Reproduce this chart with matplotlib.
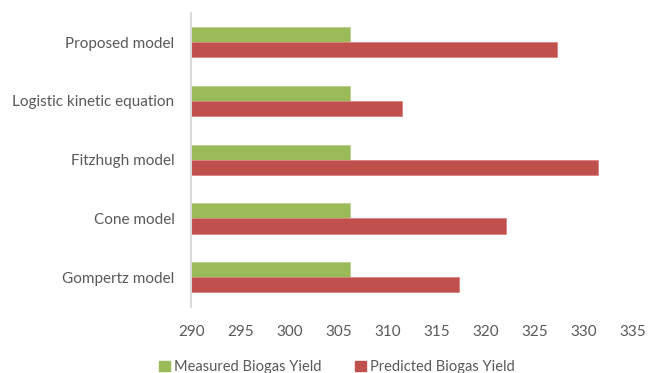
import numpy as np
import matplotlib.pyplot as plt
from matplotlib.patches import Patch

# Chart data (bottom to top, as drawn)
categories = ['Gompertz model', 'Cone model', 'Fitzhugh model',
              'Logistic kinetic equation', 'Proposed model']
measured_yield = [306.2, 306.2, 306.2, 306.2, 306.2]
predicted_yield = [317.3, 322.1, 331.4, 311.5, 327.3]
x_ticks = [290, 295, 300, 305, 310, 315, 320, 325, 330, 335]

GREEN = '#9BBB59'
RED = '#C0504D'
TEXT = '#595959'

plt.rcParams['font.family'] = ['Lato', 'DejaVu Sans']

fig = plt.figure(figsize=(6.48, 3.73), dpi=100)
ax = fig.add_axes([0.295, 0.178, 0.682, 0.788])

y = np.arange(len(categories))
h = 0.257
base = x_ticks[0]

ax.barh(y + h / 2, np.array(measured_yield) - base, left=base, height=h,
        color=GREEN, edgecolor='#b8cf8a', linewidth=0.6)
ax.barh(y - h / 2, np.array(predicted_yield) - base, left=base, height=h,
        color=RED, edgecolor='#d98583', linewidth=0.6)

ax.set_xlim(290, 335)
ax.set_ylim(-0.5, len(categories) - 0.5)
ax.set_xticks(x_ticks)
ax.set_yticks(y)
ax.set_yticklabels(categories)
ax.tick_params(axis='both', length=0, colors=TEXT, labelsize=11)
ax.tick_params(axis='x', pad=13)
ax.tick_params(axis='y', pad=12)

for side in ['top', 'right', 'bottom']:
    ax.spines[side].set_visible(False)
ax.spines['left'].set_color('#d9d9d9')
ax.spines['left'].set_linewidth(1.5)

handles = [Patch(color=GREEN, label='Measured Biogas Yield'),
           Patch(color=RED, label='Predicted Biogas Yield')]
fig.legend(handles=handles, loc='center', bbox_to_anchor=(0.52, 0.016),
           ncol=2, frameon=False, fontsize=10.5, handlelength=0.75,
           handleheight=0.75, handletextpad=0.3, columnspacing=2.3,
           labelcolor=TEXT)

fig.savefig('out.png', dpi=100)
